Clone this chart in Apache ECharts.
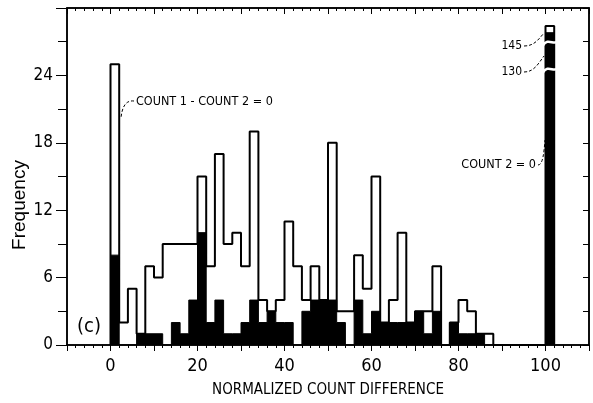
<!DOCTYPE html>
<html>
<head>
<meta charset="utf-8">
<script src="https://cdn.jsdelivr.net/npm/echarts@6/dist/echarts.min.js"></script>
<style>
  html, body { margin: 0; padding: 0; background: #fff; }
  #main { width: 593px; height: 403px; }
</style>
</head>
<body>
<div id="main"></div>
<script>
"use strict";

// histogram bins, width 2, starting at 0 (last bin is the one at 100)
const binWidth = 2;
const binStarts = [
  0, 2, 4, 6, 8, 10, 12, 14, 16, 18,
  20, 22, 24, 26, 28, 30, 32, 34, 36, 38,
  40, 42, 44, 46, 48, 50, 52, 54, 56, 58,
  60, 62, 64, 66, 68, 70, 72, 74, 76, 78,
  80, 82, 84, 86, 88, 90, 92, 94, 96, 98,
  100
];
// open outline (all cases)
const totalCounts = [
  25, 2, 5, 1, 7, 6, 9, 9, 9, 9,
  15, 7, 17, 9, 10, 7, 19, 4, 3, 4,
  11, 7, 4, 7, 4, 18, 3, 3, 8, 5,
  15, 2, 4, 10, 2, 3, 3, 7, 0, 2,
  4, 3, 1, 1, 0, 0, 0, 0, 0, 0,
  28.4
];
// filled black part
const filledCounts = [
  8, 0, 0, 1, 1, 1, 0, 2, 1, 4,
  10, 2, 4, 1, 1, 2, 4, 2, 3, 2,
  2, 0, 3, 4, 4, 4, 2, 0, 4, 1,
  3, 2, 2, 2, 2, 3, 1, 3, 0, 2,
  1, 1, 1, 0, 0, 0, 0, 0, 0, 0,
  27.8
];
// axis break levels on the bar at 100 (145 and 130 off scale)
const breakLevels = [27.0, 24.6];
const breakBin = 100;

const xTickLabels = [0, 20, 40, 60, 80, 100];
const yTickLabels = [0, 6, 12, 18, 24];

function stepData(values) {
  let pts = [[binStarts[0], 0]];
  binStarts.forEach((x, i) => pts.push([x, values[i]]));
  pts.push([binStarts[binStarts.length - 1] + binWidth, 0]);
  return pts;
}

const narrow = "'Liberation Sans Narrow', 'DejaVu Sans Condensed', sans-serif";

let myChart = echarts.init(document.getElementById('main'));

let option = {
  animation: false,
  backgroundColor: '#fff',
  grid: {
    left: 67, right: 4, top: 8, bottom: 57,
    show: true, borderColor: '#000', borderWidth: 1.5,
  },
  xAxis: [
    { // bottom
      type: 'value', min: -10, max: 110, interval: 10,
      position: 'bottom',
      axisLine: { show: true, onZero: false, lineStyle: { color: '#000', width: 1.5 } },
      axisTick: { show: true, length: 6, lineStyle: { color: '#000' } },
      minorTick: { show: true, splitNumber: 5, length: 3, lineStyle: { color: '#000' } },
      splitLine: { show: false },
      axisLabel: {
        margin: 12, color: '#000', fontFamily: narrow, fontSize: 18,
        formatter: v => xTickLabels.indexOf(v) >= 0 ? String(v) : '',
      },
      name: 'NORMALIZED COUNT DIFFERENCE',
      nameLocation: 'middle', nameGap: 38,
      nameTextStyle: { color: '#000', fontFamily: narrow, fontSize: 15 },
    },
    { // top
      type: 'value', min: -10, max: 110, interval: 10,
      position: 'top',
      axisLine: { show: true, onZero: false, lineStyle: { color: '#000', width: 1.5 } },
      axisTick: { show: true, inside: true, length: 6, lineStyle: { color: '#000' } },
      minorTick: { show: true, splitNumber: 5, length: 3, lineStyle: { color: '#000' } },
      splitLine: { show: false },
      axisLabel: { show: false },
    },
  ],
  yAxis: [
    { // left
      type: 'value', min: 0, max: 30, interval: 6,
      position: 'left',
      axisLine: { show: true, onZero: false, lineStyle: { color: '#000', width: 1.5 } },
      axisTick: { show: true, length: 11, lineStyle: { color: '#000' } },
      minorTick: { show: true, splitNumber: 2, length: 9, lineStyle: { color: '#000' } },
      splitLine: { show: false },
      axisLabel: {
        margin: 14, color: '#000', fontFamily: narrow, fontSize: 17,
        formatter: v => yTickLabels.indexOf(v) >= 0 ? String(v) : '',
      },
    },
    { // right
      type: 'value', min: 0, max: 30, interval: 3,
      position: 'right',
      axisLine: { show: true, onZero: false, lineStyle: { color: '#000', width: 1.5 } },
      axisTick: { show: true, inside: true, length: 6, lineStyle: { color: '#000' } },
      splitLine: { show: false },
      axisLabel: { show: false },
    },
  ],
  graphic: [
    { // y axis title
      type: 'text', x: 20, y: 205, rotation: Math.PI / 2,
      style: {
        text: 'Frequency', fill: '#000', fontFamily: 'Liberation Sans, sans-serif',
        fontSize: 19, align: 'center', verticalAlign: 'middle',
      },
    },
    {
      type: 'text', x: 77, y: 327,
      style: { text: '(c)', fill: '#000', fontFamily: narrow, fontSize: 20, verticalAlign: 'middle' },
    },
    {
      type: 'text', x: 136, y: 102,
      style: { text: 'COUNT 1 - COUNT 2 = 0', fill: '#000', fontFamily: narrow, fontSize: 12.5, verticalAlign: 'middle' },
    },
    {
      type: 'bezierCurve',
      shape: { x1: 134, y1: 101, cpx1: 125, cpy1: 100, cpx2: 122, cpy2: 108, x2: 121, y2: 118 },
      style: { stroke: '#000', lineWidth: 1, lineDash: [3, 2], fill: null },
    },
    {
      type: 'text', x: 522, y: 46,
      style: { text: '145', fill: '#000', fontFamily: narrow, fontSize: 12, align: 'right', verticalAlign: 'middle' },
    },
    {
      type: 'bezierCurve',
      shape: { x1: 524, y1: 46, cpx1: 534, cpy1: 46, cpx2: 538, cpy2: 40, x2: 544, y2: 33 },
      style: { stroke: '#000', lineWidth: 1, lineDash: [3, 2], fill: null },
    },
    {
      type: 'text', x: 522, y: 72,
      style: { text: '130', fill: '#000', fontFamily: narrow, fontSize: 12, align: 'right', verticalAlign: 'middle' },
    },
    {
      type: 'bezierCurve',
      shape: { x1: 524, y1: 72, cpx1: 534, cpy1: 72, cpx2: 538, cpy2: 64, x2: 544, y2: 56 },
      style: { stroke: '#000', lineWidth: 1, lineDash: [3, 2], fill: null },
    },
    {
      type: 'text', x: 536, y: 165,
      style: { text: 'COUNT 2 = 0', fill: '#000', fontFamily: narrow, fontSize: 12.5, align: 'right', verticalAlign: 'middle' },
    },
    {
      type: 'bezierCurve',
      shape: { x1: 538, y1: 165, cpx1: 543, cpy1: 165, cpx2: 544, cpy2: 152, x2: 545, y2: 140 },
      style: { stroke: '#000', lineWidth: 1, lineDash: [3, 2], fill: null },
    },
  ],
  series: [
    {
      name: 'filled',
      type: 'line',
      step: 'end',
      showSymbol: false,
      data: stepData(filledCounts),
      lineStyle: { color: '#000', width: 1 },
      areaStyle: { color: '#000', opacity: 1 },
      z: 2,
    },
    {
      name: 'total',
      type: 'line',
      step: 'end',
      showSymbol: false,
      data: stepData(totalCounts),
      lineStyle: { color: '#000', width: 2 },
      z: 3,
    },
    { // break marks across the bar at 100
      name: 'breaks',
      type: 'custom',
      data: breakLevels.map(y => [breakBin, y]),
      renderItem: function (params, api) {
        let x = api.value(0), y = api.value(1);
        let p1 = api.coord([x - 0.6, y - 0.35]);
        let p2 = api.coord([x + binWidth + 1.2, y + 0.1]);
        let c1 = api.coord([x + 0.6, y + 0.45]);
        let c2 = api.coord([x + binWidth, y - 0.45]);
        return {
          type: 'bezierCurve',
          shape: { x1: p1[0], y1: p1[1], cpx1: c1[0], cpy1: c1[1], cpx2: c2[0], cpy2: c2[1], x2: p2[0], y2: p2[1] },
          style: { stroke: '#fff', lineWidth: 2.5, fill: null },
        };
      },
      z: 5,
    },
  ],
};

myChart.setOption(option);
</script>
</body>
</html>
